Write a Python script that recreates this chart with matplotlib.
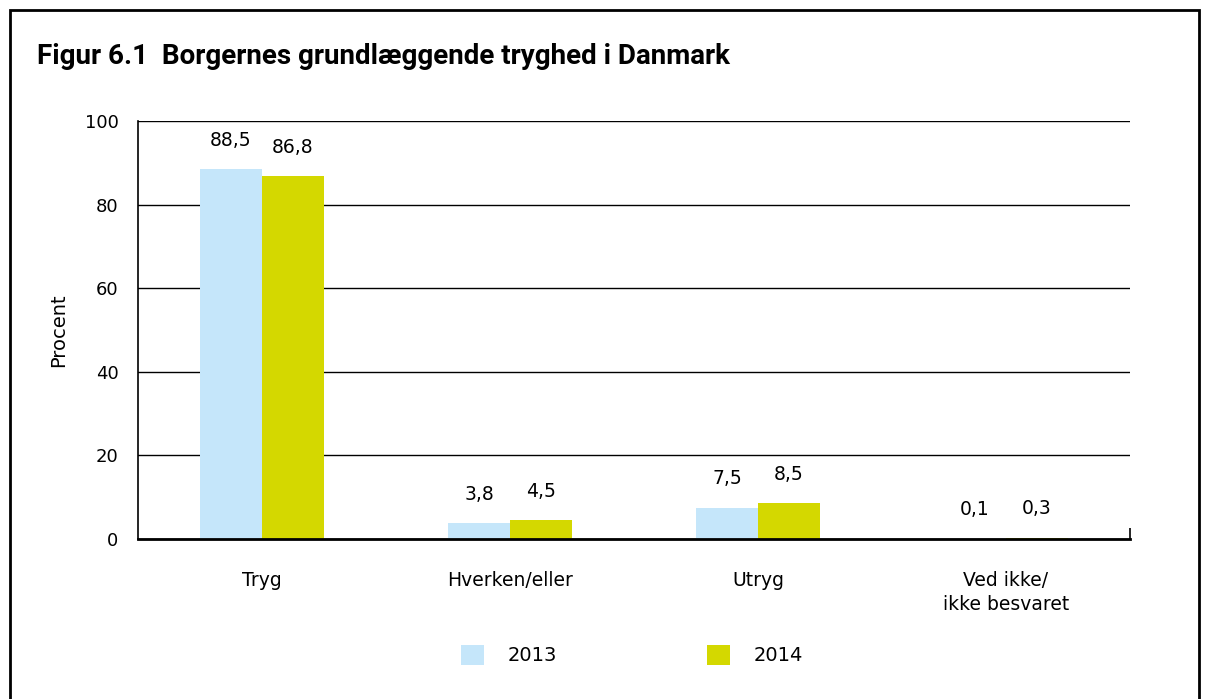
import numpy as np
import matplotlib.pyplot as plt
from matplotlib.patches import Rectangle

categories = ['Tryg', 'Hverken/eller', 'Utryg', 'Ved ikke/\nikke besvaret']
years = ['2013', '2014']
v2013 = [88.5, 3.8, 7.5, 0.1]
v2014 = [86.8, 4.5, 8.5, 0.3]
yticks = [0, 20, 40, 60, 80, 100]

c2013 = '#c5e6fa'
c2014 = '#d4d800'

plt.rcParams['font.family'] = ['DejaVu Sans']

fig = plt.figure(figsize=(12.08, 6.99), dpi=100)
ax = fig.add_axes([0.1142, 0.2289, 0.8212, 0.598])

# frame round the whole figure
fig.patches.append(Rectangle((10 / 1208, -0.01), 1189 / 1208, 1 - 10 / 699 + 0.01,
                             transform=fig.transFigure, fill=False, lw=2, ec='black'))

fig.text(37 / 1208, 1 - 56 / 699, 'Figur 6.1  Borgernes grundlæggende tryghed i Danmark',
         family=['Roboto', 'DejaVu Sans'], weight='bold',
         fontsize=20, va='center', ha='left')

x = np.arange(len(categories))
w = 0.25
b1 = ax.bar(x - w / 2, v2013, w, color=c2013, label=years[0], zorder=3)
b2 = ax.bar(x + w / 2, v2014, w, color=c2014, label=years[1], zorder=3)

for bars, vals in ((b1, v2013), (b2, v2014)):
    for r, v in zip(bars, vals):
        ax.annotate(f'{v:.1f}'.replace('.', ','), (r.get_x() + r.get_width() / 2, v),
                    xytext=(0, 14), textcoords='offset points', ha='center',
                    va='bottom', fontsize=13.5)

ax.set_xlim(-0.5, 3.5)
ax.set_ylim(0, 100)
ax.set_yticks(yticks)
ax.set_yticklabels([str(t) for t in yticks], fontsize=13)
ax.set_xticks(x)
ax.set_xticklabels(categories, fontsize=13.5, linespacing=1.35)
ax.tick_params(axis='x', length=0, pad=23)
ax.tick_params(axis='y', length=0, pad=14)
ax.set_xticks([3.5], minor=True)
ax.tick_params(axis='x', which='minor', direction='in', length=8, width=1.2)
ax.grid(True, axis='y', color='black', lw=1, zorder=1)
ax.set_ylabel('Procent', fontsize=14, labelpad=12)

for s in ['top', 'right']:
    ax.spines[s].set_visible(False)
ax.spines['left'].set_linewidth(1.2)
ax.spines['bottom'].set_linewidth(2)
ax.spines['bottom'].set_zorder(4)

ax.legend(loc='center', bbox_to_anchor=(0.523, 0.063), bbox_transform=fig.transFigure,
          ncol=2, frameon=False, fontsize=14, handlelength=1.2, handleheight=1.2,
          columnspacing=7.7, handletextpad=1.2)

plt.savefig('out.png', dpi=100)
